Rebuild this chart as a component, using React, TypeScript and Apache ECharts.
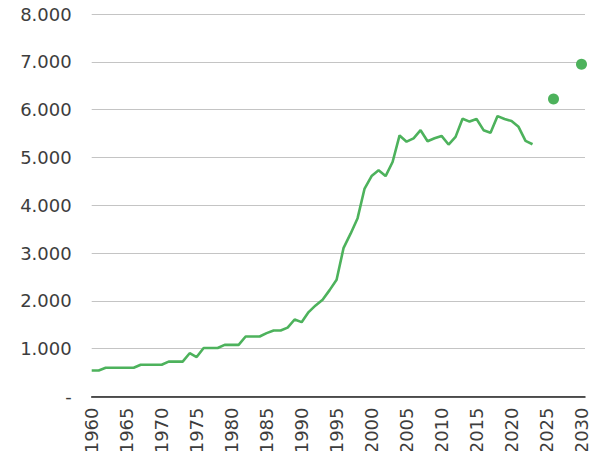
import React, { useEffect, useRef } from "react";
import * as echarts from "echarts";

const years: number[] = [
  1960, 1961, 1962, 1963, 1964, 1965, 1966, 1967, 1968, 1969,
  1970, 1971, 1972, 1973, 1974, 1975, 1976, 1977, 1978, 1979,
  1980, 1981, 1982, 1983, 1984, 1985, 1986, 1987, 1988, 1989,
  1990, 1991, 1992, 1993, 1994, 1995, 1996, 1997, 1998, 1999,
  2000, 2001, 2002, 2003, 2004, 2005, 2006, 2007, 2008, 2009,
  2010, 2011, 2012, 2013, 2014, 2015, 2016, 2017, 2018, 2019,
  2020, 2021, 2022, 2023,
];

const values: number[] = [
  545, 545, 600, 600, 600, 600, 600, 663, 663, 663,
  663, 730, 730, 730, 905, 825, 1015, 1015, 1015, 1080,
  1080, 1080, 1255, 1255, 1255, 1325, 1380, 1380, 1440, 1610,
  1555, 1765, 1905, 2025, 2225, 2440, 3110, 3405, 3730, 4350,
  4610, 4730, 4610, 4905, 5460, 5330, 5400, 5570, 5340, 5400,
  5450, 5270, 5430, 5810, 5750, 5805, 5570, 5515, 5865, 5805,
  5760, 5640, 5345, 5275,
];

const projectionYears: number[] = [2026, 2030];
const projectionValues: number[] = [6220, 6950];

const yTicks: number[] = [0, 1000, 2000, 3000, 4000, 5000, 6000, 7000, 8000];

const GREEN = "#4DB25C";
const FONT = "DejaVu Sans";

function fmtThousands(v: number): string {
  if (v === 0) return "-";
  const s = String(Math.round(v));
  return s.replace(/\B(?=(\d{3})+(?!\d))/g, ".");
}

export default function App() {
  const ref = useRef<HTMLDivElement>(null);

  useEffect(() => {
    if (!ref.current) return;
    const chart = echarts.init(ref.current, undefined, { renderer: "svg" });
    const lineData = years.map((y, i) => [y, values[i]]);
    const projData = projectionYears.map((y, i) => [y, projectionValues[i]]);
    chart.setOption({
      animation: false,
      backgroundColor: "#ffffff",
      grid: {
        left: 91.7,
        right: 12,
        top: 14,
        bottom: 62.5,
        containLabel: false,
      },
      xAxis: {
        type: "value",
        min: 1960,
        max: 2030.5,
        interval: 5,
        axisLine: {
          show: true,
          onZero: false,
          lineStyle: { color: "#222222", width: 1.5 },
        },
        axisTick: { show: false },
        splitLine: { show: false },
        axisLabel: {
          rotate: 90,
          margin: 11,
          color: "#3d3d3d",
          fontFamily: FONT,
          fontSize: 18,
          showMaxLabel: true,
          formatter: (v: number) => (v % 5 === 0 ? String(v) : ""),
        },
      },
      yAxis: {
        type: "value",
        min: yTicks[0],
        max: yTicks[yTicks.length - 1],
        interval: 1000,
        axisLine: { show: false },
        axisTick: { show: false },
        splitLine: {
          show: true,
          lineStyle: { color: "#c4c4c4", width: 1 },
        },
        axisLabel: {
          margin: 20,
          color: "#3d3d3d",
          fontFamily: FONT,
          fontSize: 18,
          formatter: (v: number) => fmtThousands(v),
        },
      },
      series: [
        {
          type: "line",
          data: lineData,
          showSymbol: false,
          symbol: "none",
          lineStyle: { color: GREEN, width: 2.6 },
          itemStyle: { color: GREEN },
          z: 3,
        },
        {
          type: "scatter",
          data: projData,
          symbol: "circle",
          symbolSize: 11,
          itemStyle: { color: GREEN, opacity: 1 },
          z: 4,
        },
      ],
    });
    return () => chart.dispose();
  }, []);

  return <div ref={ref} style={{ width: 597, height: 459, margin: -8 }} />;
}
